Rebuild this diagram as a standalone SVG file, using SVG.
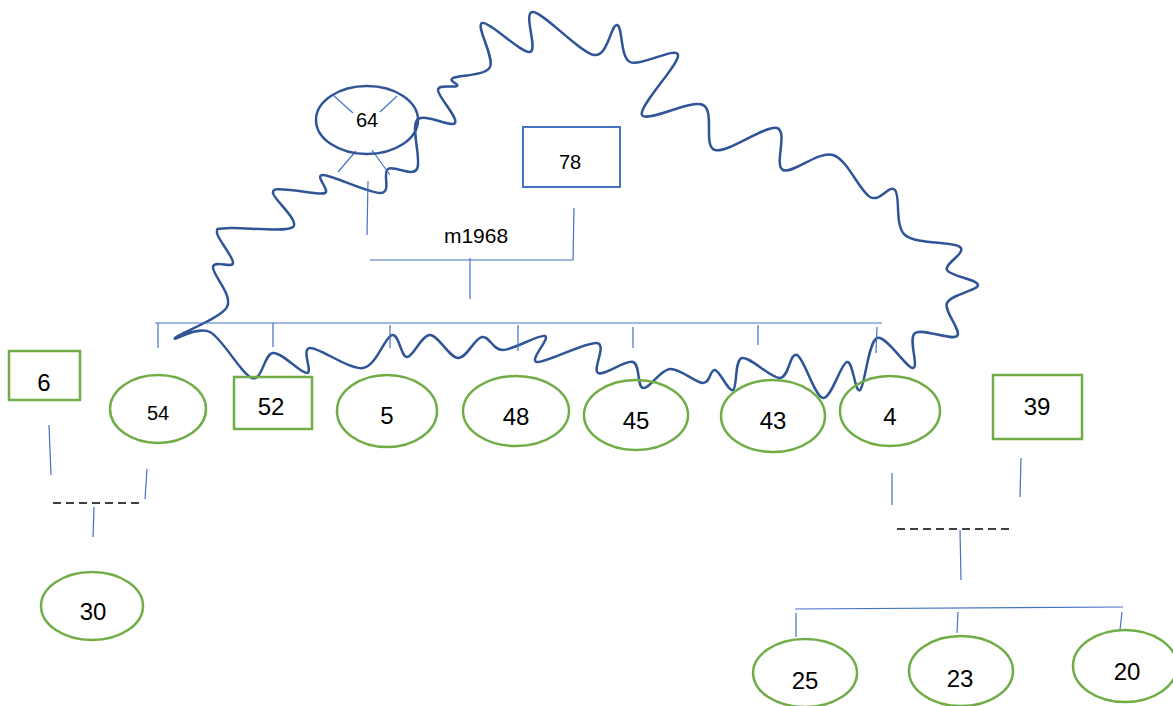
<svg xmlns="http://www.w3.org/2000/svg" width="1173" height="706" viewBox="0 0 1173 706">
<style>
.g{fill:none;stroke:#70AD47;stroke-width:2.5}
.b{fill:none;stroke:#4472C4;stroke-width:2}
.ln{fill:none;stroke:#4472C4;stroke-width:1.2}
.dash{fill:none;stroke:#000;stroke-width:1.6;stroke-dasharray:8,5}
.dk{fill:none;stroke:#2F5597;stroke-width:2.5;stroke-linejoin:round}
text{font-family:"Liberation Sans",Arial,sans-serif;fill:#000;text-anchor:middle}
.t24{font-size:24px}
.t20{font-size:20px}
</style>
<rect width="1173" height="706" fill="#fff"/>
<g id="wave">
<path class="dk" d="M175,338 C177.8,333.8 220.7,318.8 227,307 S212,274.3 213,267 S232.3,268.7 233,263 S217.5,238.8 217,233 S217.3,229 230,228 S285.8,232.8 293,227 S273.5,199.2 273,193 S281.3,190 290,190 S319.5,195.5 325,193 S313.7,175 323,175 S370.2,194 381,193 S382,173 388,169 S412.2,177.2 417,169 S410.7,127.7 417,120 S451.5,128 455,123 S437.7,96.2 438,90 S454.5,88 457,86 S447.5,81.2 453,78 S485.2,76.2 490,67 S475.3,25.5 482,23 S521.5,53.8 530,52 S522.3,11.5 533,12 S580,52.8 594,55 S611,23.8 617,25 S619.8,57 630,62 S676,46.2 678,55 S637.8,106.7 642,115 S690.8,99.2 703,105 S702.7,146.2 715,150 S765.7,124.7 777,128 S773.7,165.5 783,170 S818.5,150.5 833,155 S859.7,191.2 870,197 S889.2,183.7 895,190 S894.2,225.5 905,235 S953,241.2 960,247 S944,263.7 947,270 S978,279.5 978,285 S950.5,294.5 947,303 S962.3,331 957,336 S922.3,327.7 915,333 S919.3,367.2 913,368 S885.8,334.3 877,338 S865,386 860,390 S853.2,360.7 847,362 S831.3,399.2 823,398 S804.2,358.3 797,355 S789.2,377.5 780,378 S749.8,356 742,358 S737.5,388 733,390 S720,371.2 715,370 S710.5,383.2 703,383 S680,368.2 670,369 S649.2,389.2 643,388 S640.5,364.5 633,362 S604,376.2 598,373 S607.2,344.8 597,343 S545.7,363.2 537,362 S550.7,338 545,336 S513.5,349.8 503,350 S489.5,335.7 482,337 S466.7,358.3 458,358 S438.5,335.2 430,335 S413.3,357 407,357 S399.3,333.2 392,335 S376.7,365.8 363,368 S319.3,347.2 310,348 S313.2,372.2 307,373 S282.2,352.2 273,353 S262.5,381.5 252,378 S222.8,338.7 210,332 S172.2,342.2 175,338 Z"/>
</g>
<g id="connectors">
<line class="ln" x1="334" y1="96" x2="353" y2="113"/>
<line class="ln" x1="397" y1="96" x2="380" y2="112"/>
<line class="ln" x1="356" y1="151" x2="338" y2="172"/>
<line class="ln" x1="372" y1="150" x2="390" y2="175"/>
<line class="ln" x1="368" y1="181" x2="367" y2="235"/>
<polyline class="ln" points="574,208 573,260 370,260"/>
<line class="ln" x1="470" y1="258" x2="470" y2="299"/>
<line class="ln" x1="155" y1="323" x2="882" y2="323"/>
<line class="ln" x1="158" y1="323" x2="158" y2="348"/>
<line class="ln" x1="273" y1="323" x2="273" y2="347"/>
<line class="ln" x1="390" y1="325" x2="390" y2="348"/>
<line class="ln" x1="518" y1="325" x2="518" y2="351"/>
<line class="ln" x1="633" y1="327" x2="633" y2="348"/>
<line class="ln" x1="758" y1="325" x2="758" y2="345"/>
<line class="ln" x1="877" y1="327" x2="876" y2="353"/>
<line class="ln" x1="49" y1="425" x2="51" y2="475"/>
<line class="ln" x1="147" y1="469" x2="145" y2="499"/>
<line class="dash" x1="53" y1="503" x2="139" y2="503"/>
<line class="ln" x1="94" y1="507" x2="93" y2="537"/>
<line class="ln" x1="892" y1="473" x2="892" y2="505"/>
<line class="ln" x1="1021" y1="458" x2="1020" y2="497"/>
<line class="dash" x1="897" y1="529" x2="1013" y2="529"/>
<line class="ln" x1="960" y1="530" x2="961" y2="580"/>
<line class="ln" x1="795" y1="609" x2="1123" y2="607"/>
<line class="ln" x1="796" y1="613" x2="796" y2="637"/>
<line class="ln" x1="958" y1="612" x2="957" y2="633"/>
<line class="ln" x1="1122" y1="612" x2="1120" y2="630"/>
</g>
<g id="n64"><ellipse class="dk" cx="367" cy="120" rx="51" ry="34"/><text class="t20" x="367" y="127">64</text></g>
<g id="n78"><rect class="b" x="523" y="127" width="97" height="60"/><text class="t20" x="570" y="169">78</text></g>
<g id="lm1968"><text x="476" y="243" style="font-size:21px">m1968</text></g>
<g id="n6"><rect class="g" x="9" y="351" width="71" height="49"/><text class="t24" x="44" y="391">6</text></g>
<g id="n54"><ellipse class="g" cx="158" cy="409" rx="48" ry="34"/><text class="t20" x="158" y="420">54</text></g>
<g id="n52"><rect class="g" x="234" y="377" width="78" height="52"/><text class="t24" x="271" y="415">52</text></g>
<g id="n5"><ellipse class="g" cx="387" cy="411" rx="50" ry="36"/><text class="t24" x="387" y="424">5</text></g>
<g id="n48"><ellipse class="g" cx="516" cy="411" rx="53" ry="35"/><text class="t24" x="516" y="425">48</text></g>
<g id="n45"><ellipse class="g" cx="636" cy="415" rx="52" ry="35"/><text class="t24" x="636" y="429">45</text></g>
<g id="n43"><ellipse class="g" cx="773" cy="416" rx="52" ry="36"/><text class="t24" x="773" y="429">43</text></g>
<g id="n4"><ellipse class="g" cx="890" cy="411" rx="50" ry="35"/><text class="t24" x="890" y="425">4</text></g>
<g id="n39"><rect class="g" x="993" y="375" width="89" height="64"/><text class="t24" x="1037" y="415">39</text></g>
<g id="n30"><ellipse class="g" cx="92" cy="606" rx="51" ry="34"/><text class="t24" x="93" y="620">30</text></g>
<g id="n25"><ellipse class="g" cx="805" cy="673" rx="52" ry="34"/><text class="t24" x="805" y="689">25</text></g>
<g id="n23"><ellipse class="g" cx="961" cy="671" rx="52" ry="35"/><text class="t24" x="960" y="687">23</text></g>
<g id="n20"><ellipse class="g" cx="1125" cy="666" rx="52" ry="36"/><text class="t24" x="1127" y="680">20</text></g>
</svg>
